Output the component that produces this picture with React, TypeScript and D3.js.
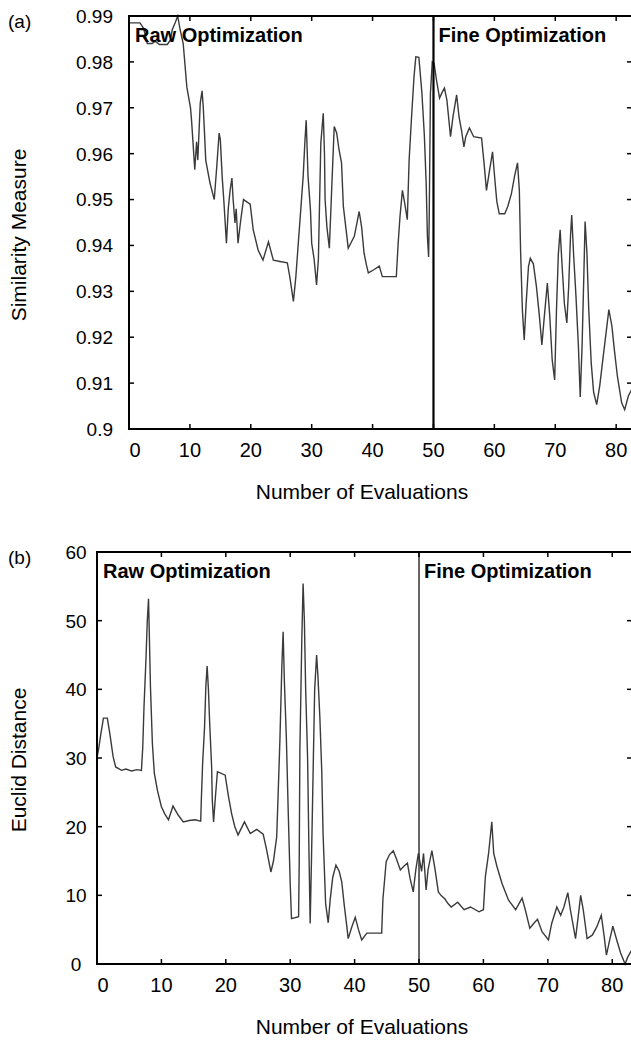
import React from 'react';
import * as d3 from 'd3';

// (a) similarity measure vs number of evaluations
const simEvals = [
  0, 1.8, 2.4, 3.0, 3.8, 4.3, 5.0, 6.3, 6.8, 7.1, 7.6, 8.0, 8.4, 8.9, 9.5, 10.1, 10.3, 10.7, 10.8, 11.1,
  11.3, 11.7, 12.0, 12.2, 12.4, 12.6, 13.3, 14.0, 14.4, 14.8, 15.0, 15.3, 15.6, 16.0, 16.3, 16.6, 16.9, 17.1,
  17.4, 17.6, 17.9, 18.3, 18.8, 19.9, 20.4, 21.2, 22.0, 22.9, 23.7, 24.8, 26.0, 26.4, 27.0, 27.4, 27.8, 28.2,
  28.6, 28.9, 29.1, 29.4, 29.8, 30.0, 30.4, 30.8, 31.1, 31.5, 31.9, 32.1, 32.2, 32.5, 32.9, 33.3, 33.7, 34.1,
  34.5, 34.9, 35.2, 35.6, 36.0, 37.0, 37.8, 38.2, 38.6, 39.0, 39.3, 40.2, 41.1, 41.6, 43.9, 44.2, 44.5, 44.9,
  45.3, 45.7, 46.0, 46.4, 46.8, 47.1, 47.6, 48.1, 48.5, 48.8, 49.0, 49.2, 49.3, 49.5, 49.8, 50.1, 50.5, 51.0,
  51.4, 51.8, 52.2, 52.8, 53.2, 53.8, 54.2, 54.6, 55.0, 55.3, 55.9, 56.6, 57.9, 58.3, 58.7, 59.2, 59.7, 60.1,
  60.4, 60.8, 61.7, 62.2, 62.8, 63.3, 63.8, 64.1, 64.3, 64.6, 64.9, 65.2, 65.6, 65.9, 66.4, 66.9, 67.4, 67.8,
  68.2, 68.7, 69.1, 69.5, 69.9, 70.2, 70.5, 70.8, 71.1, 71.5, 71.9, 72.2, 72.5, 72.7, 73.0, 73.4, 73.8, 74.1,
  74.4, 74.7, 74.9, 75.2, 75.5, 75.9, 76.3, 76.8, 77.3, 77.8, 78.4, 78.8, 79.3, 79.7, 80.2, 80.9, 81.4, 82.0, 82.5,
];
const simValues = [
  0.9885, 0.9885, 0.9873, 0.984, 0.984, 0.9845, 0.9838, 0.9838, 0.9848, 0.987, 0.9886, 0.99, 0.987, 0.984,
  0.9745, 0.97, 0.9667, 0.9586, 0.9565, 0.9626, 0.9586, 0.971, 0.9737, 0.97, 0.9645, 0.9586, 0.9536, 0.95,
  0.957, 0.9645, 0.963, 0.955, 0.9492, 0.9405, 0.948, 0.952, 0.9547, 0.95, 0.9449, 0.948, 0.9405, 0.945,
  0.95, 0.949, 0.9434, 0.939, 0.9368, 0.9408, 0.9368, 0.9365, 0.9362, 0.9332, 0.9278, 0.9332, 0.9405,
  0.9477, 0.955, 0.963, 0.9673, 0.955, 0.9477, 0.9405, 0.937, 0.9314, 0.937, 0.9623, 0.9688, 0.96, 0.95,
  0.944, 0.9394, 0.9528, 0.9659, 0.9645, 0.9608, 0.958, 0.9485, 0.944, 0.9394, 0.942, 0.9474, 0.944, 0.9383,
  0.9357, 0.934, 0.9347, 0.9355, 0.9332, 0.9332, 0.9405, 0.9463, 0.952, 0.949, 0.9456, 0.9586, 0.968,
  0.9767, 0.9811, 0.981, 0.9732, 0.964, 0.9536, 0.942, 0.9375, 0.946, 0.9732, 0.98, 0.9797, 0.976, 0.9721,
  0.9733, 0.9743, 0.9717, 0.9637, 0.968, 0.9728, 0.968, 0.9651, 0.9615, 0.9637, 0.9656, 0.9637, 0.9634,
  0.958, 0.952, 0.9563, 0.9604, 0.954, 0.9496, 0.9469, 0.9469, 0.9485, 0.9513, 0.955, 0.958, 0.952, 0.939,
  0.9259, 0.9194, 0.927, 0.9354, 0.9372, 0.936, 0.9311, 0.9245, 0.9183, 0.9245, 0.9318, 0.9245, 0.915,
  0.9107, 0.926, 0.938, 0.9434, 0.936, 0.9273, 0.9231, 0.931, 0.942, 0.9466, 0.9383, 0.9289, 0.918, 0.907,
  0.918, 0.934, 0.9452, 0.9383, 0.926, 0.9144, 0.908, 0.9053, 0.9094, 0.915, 0.9216, 0.926, 0.9224, 0.9173,
  0.9115, 0.9057, 0.9042, 0.9072, 0.9085,
];

// (b) euclid distance vs number of evaluations
const distEvals = [
  0, 0.3, 0.6, 1.0, 1.6, 2.0, 2.5, 2.9, 3.8, 4.5, 5.4, 6.2, 6.9, 7.1, 7.3, 7.6, 7.8, 8.0, 8.1, 8.3, 8.6, 8.9,
  9.4, 10.0, 10.5, 11.1, 11.8, 12.6, 13.4, 14.3, 15.2, 16.1, 16.2, 16.4, 16.7, 16.9, 17.1, 17.3, 17.5, 17.8,
  17.9, 18.1, 18.4, 18.7, 19.9, 20.4, 20.9, 21.4, 21.9, 22.9, 23.8, 24.8, 25.8, 26.3, 27.0, 27.4, 27.9, 28.1,
  28.4, 28.7, 28.9, 29.1, 29.4, 29.7, 30.0, 30.2, 31.3, 31.4, 31.5, 31.8, 32.0, 32.2, 32.4, 32.7, 32.9, 33.1,
  33.3, 33.6, 33.8, 34.1, 34.3, 34.6, 34.9, 35.1, 35.5, 35.9, 36.2, 36.6, 37.1, 37.6, 38.0, 38.4, 38.8, 39.0,
  39.6, 40.1, 40.6, 41.1, 41.9, 44.2, 44.4, 44.7, 44.9, 45.4, 46.0, 46.5, 47.1, 47.6, 48.2, 48.6, 49.1, 49.5,
  49.9, 50.4, 50.7, 51.1, 51.4, 52.0, 52.5, 53.0, 53.4, 54.0, 54.5, 55.0, 56.0, 57.0, 58.0, 59.3, 60.0, 60.3,
  60.8, 61.3, 61.6, 62.1, 62.9, 63.9, 65.0, 66.0, 66.5, 67.2, 67.8, 68.4, 69.1, 70.1, 70.6, 71.4, 72.0, 72.5,
  73.1, 73.5, 74.3, 74.7, 75.1, 75.5, 76.1, 76.9, 77.6, 78.3, 78.7, 79.1, 79.7, 80.1, 80.7, 81.3, 82.0, 82.4,
  83.0,
];
const distValues = [
  30.0, 31.6, 33.5, 35.8, 35.8, 33.5, 30.2, 28.7, 28.2, 28.4, 28.1, 28.3, 28.2, 31.5, 37.5, 44.3, 49.8, 53.2,
  49.0, 40.4, 32.1, 27.8, 25.2, 22.9, 21.9, 21.0, 23.0, 21.7, 20.7, 20.9, 21.0, 20.8, 23.9, 29.2, 34.5, 40.4,
  43.4, 40.0, 35.0, 28.7, 23.9, 20.7, 24.5, 28.0, 27.5, 24.5, 21.9, 20.0, 18.8, 20.7, 19.0, 19.6, 18.9, 16.8,
  13.4, 15.0, 18.5, 24.0, 32.6, 43.3, 48.4, 41.0, 33.0, 21.9, 11.7, 6.6, 6.9, 15.0, 31.1, 47.2, 55.4, 50.0,
  40.0, 30.0, 17.0, 5.9, 15.0, 30.2, 40.0, 45.0, 42.0, 36.0, 28.0, 19.0, 8.8, 6.0, 9.3, 12.6, 14.4, 13.5,
  12.0, 8.5, 5.4, 3.7, 5.5, 6.8, 5.0, 3.5, 4.5, 4.5, 9.5, 12.7, 14.9, 15.9, 16.5, 15.3, 13.7, 14.2, 14.7,
  12.5, 10.5, 13.7, 16.1, 13.5, 16.1, 10.8, 13.7, 16.5, 13.7, 10.5, 10.0, 9.5, 8.8, 8.3, 9.0, 7.9, 8.3, 7.6,
  7.9, 12.7, 16.1, 20.7, 16.1, 14.2, 11.7, 9.3, 7.9, 9.6, 7.9, 5.2, 5.9, 6.5, 4.7, 3.5, 5.9, 8.3, 7.1, 8.3,
  10.4, 7.9, 3.7, 6.8, 10.0, 7.9, 3.7, 4.2, 5.4, 7.1, 4.4, 1.3, 3.9, 5.5, 3.5, 1.6, 0.0, 1.0, 2.0,
];

const xTicks = [0, 10, 20, 30, 40, 50, 60, 70, 80];
const simTicks = [0.9, 0.91, 0.92, 0.93, 0.94, 0.95, 0.96, 0.97, 0.98, 0.99];
const distTicks = [0, 10, 20, 30, 40, 50, 60];
const phaseSplit = 50;

const FONT = '"Liberation Sans", Arial, sans-serif';

const Panel = ({ evals, values, yTicks, yDomain, xMax, box, tag, yTitle, yTitleY, yLabelX, yLabelAnchor, splitWidth, splitColor, yFmt }) => {
  const x = d3.scaleLinear().domain([0, xMax]).range([box.left, box.right]);
  const y = d3.scaleLinear().domain(yDomain).range([box.bottom, box.top]);
  const line = d3.line().x(d => x(d[0])).y(d => y(d[1]));
  const pts = evals.map((e, i) => [e, values[i]]);
  const tk = 5;

  return (
    <g fontFamily={FONT}>
      <text x={8} y={box.top + 12} fontSize={19}>{tag}</text>
      <path d={line(pts)} fill="none" stroke="#3a3a3a" strokeWidth={1.4} />
      <line x1={x(phaseSplit)} x2={x(phaseSplit)} y1={box.top} y2={box.bottom} stroke={splitColor} strokeWidth={splitWidth} />
      <rect x={box.left} y={box.top} width={box.right - box.left} height={box.bottom - box.top}
        fill="none" stroke="#000" strokeWidth={2} />
      {xTicks.map(t => (
        <g key={'x' + t}>
          <line x1={x(t)} x2={x(t)} y1={box.bottom} y2={box.bottom - tk} stroke="#000" strokeWidth={1.5} />
          <line x1={x(t)} x2={x(t)} y1={box.top} y2={box.top + tk} stroke="#000" strokeWidth={1.5} />
          <text x={x(t) + (t === 0 ? 6 : 0)} y={box.bottom + 28} fontSize={20} textAnchor="middle">{t}</text>
        </g>
      ))}
      {yTicks.map(t => (
        <g key={'y' + t}>
          <line x1={box.left} x2={box.left + tk} y1={y(t)} y2={y(t)} stroke="#000" strokeWidth={1.5} />
          <line x1={box.right - tk} x2={box.right} y1={y(t)} y2={y(t)} stroke="#000" strokeWidth={1.5} />
          <text x={yLabelX} y={y(t)} dy="0.36em" fontSize={19} textAnchor={yLabelAnchor}>{yFmt(t)}</text>
        </g>
      ))}
      <text x={box.left + 6} y={box.top + 26} fontSize={20} fontWeight="bold">Raw Optimization</text>
      <text x={x(phaseSplit) + 5} y={box.top + 26} fontSize={20} fontWeight="bold">Fine Optimization</text>
      <text transform={`translate(26,${yTitleY}) rotate(-90)`} fontSize={21} textAnchor="middle">{yTitle}</text>
      <text x={362} y={box.bottom + 70} fontSize={21} textAnchor="middle">Number of Evaluations</text>
    </g>
  );
};

export default function App() {
  return (
    <svg width={631} height={1040} style={{ position: 'absolute', left: 0, top: 0, background: '#fff' }}>
      <Panel
        evals={simEvals} values={simValues} yTicks={simTicks} yDomain={[0.9, 0.99]} xMax={82.6}
        box={{ left: 129, right: 632, top: 16, bottom: 429 }} tag="(a)" yTitle="Similarity Measure" yTitleY={235}
        yLabelX={113} yLabelAnchor="end" splitWidth={2.2} splitColor="#000" yFmt={t => String(+t.toFixed(2))}
      />
      <Panel
        evals={distEvals} values={distValues} yTicks={distTicks} yDomain={[0, 60]} xMax={83.07}
        box={{ left: 97, right: 632, top: 552, bottom: 964 }} tag="(b)" yTitle="Euclid Distance" yTitleY={760}
        yLabelX={76} yLabelAnchor="middle" splitWidth={1.5} splitColor="#333" yFmt={t => String(t)}
      />
    </svg>
  );
}
